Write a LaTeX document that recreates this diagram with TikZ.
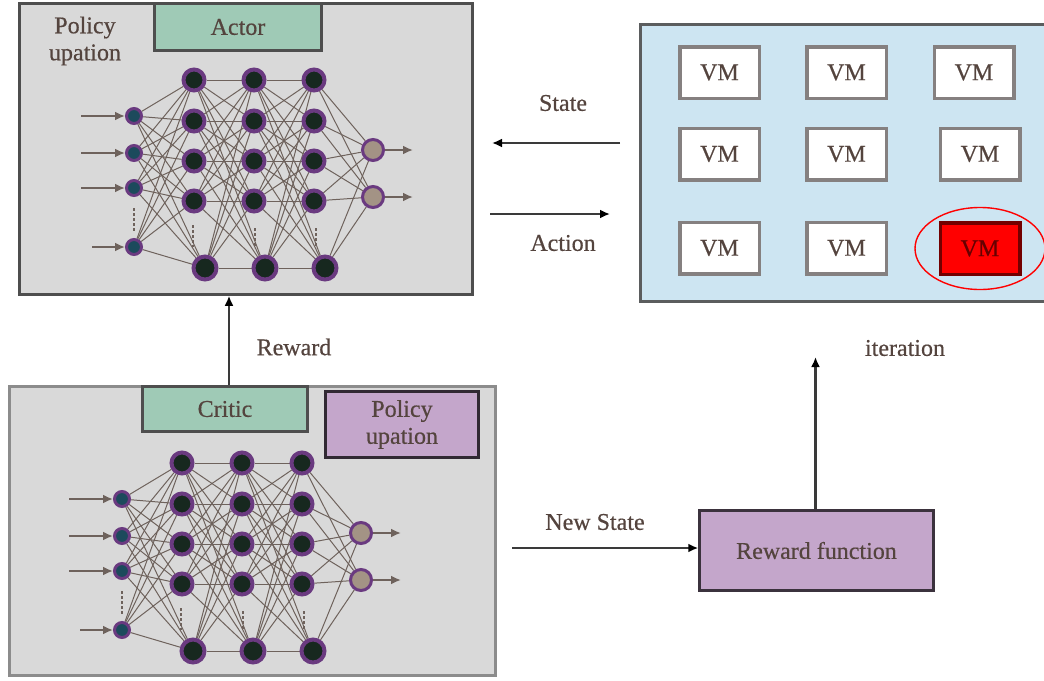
\documentclass[tikz,border=0pt]{standalone}
\usepackage{fontspec}
\setmainfont{Liberation Serif}
\newfontfamily\labelfont{Liberation Serif}[FakeBold=0.5]
\usetikzlibrary{arrows.meta}
\pgfdeclarelayer{bg}
\pgfdeclarelayer{wires}
\pgfsetlayers{bg,wires,main}

\definecolor{panelgray}{HTML}{D9D9D9}
\definecolor{framedark}{HTML}{4E4E4E}
\definecolor{framelight}{HTML}{8C8C8C}
\definecolor{mint}{HTML}{9FCAB6}
\definecolor{lilac}{HTML}{C4A6CB}
\definecolor{skyfill}{HTML}{CDE5F2}
\definecolor{inkbrown}{HTML}{54443E}
\definecolor{wire}{HTML}{6E625C}
\definecolor{ringpurple}{HTML}{6A3A80}
\definecolor{hidfill}{HTML}{17281F}
\definecolor{infill}{HTML}{1C4A5C}
\definecolor{outfill}{HTML}{A39385}
\definecolor{arrowgray}{HTML}{3A3A3A}
\definecolor{vmframe}{HTML}{858080}
\definecolor{alertred}{HTML}{FF0000}

\tikzset{
  txt/.style={font=\labelfont\fontsize{24}{27}\selectfont, text=inkbrown, align=center},
  panel/.style={rectangle, draw=framedark, line width=2.5pt, fill=panelgray, inner sep=0pt},
  tag/.style={rectangle, draw=framedark, line width=2.5pt, inner sep=0pt, txt},
  innode/.style={circle, draw=ringpurple, line width=3pt, fill=infill, minimum size=15pt, inner sep=0pt},
  hidnode/.style={circle, draw=ringpurple, line width=4pt, fill=hidfill, minimum size=21pt, inner sep=0pt},
  outnode/.style={circle, draw=ringpurple, line width=3pt, fill=outfill, minimum size=21pt, inner sep=0pt},
  vmbox/.style={rectangle, draw=vmframe, line width=3.5pt, fill=white, minimum width=79.5pt, minimum height=51.5pt, inner sep=0pt, txt},
  flow/.style={draw=arrowgray, line width=2.2pt, -{Latex[length=10pt,width=9pt,color=black]}},
  feed/.style={draw=wire, line width=2.3pt, -{Latex[length=10pt,width=9pt]}},
  mesh/.style={draw=wire, line width=1pt},
  ellipsis/.style={draw=wire, line width=2.6pt, dash pattern=on 2.5pt off 2.5pt},
}

% fully connected network: 4 inputs, three hidden layers of 5, two outputs
\newcommand{\mlpnet}[1]{%
  \foreach \y [count=\k] in {116,153,188,247} {
    \node[innode] (#1i\k) at (134,\y) {};
  }
  \foreach \y [count=\k] in {116,153,188} {
    \coordinate (#1s\k) at (81,\y);
  }
  \coordinate (#1s4) at (92,247);
  \foreach \x [count=\c] in {194,254,314} {
    \foreach \y [count=\k] in {80,121,161,201} {
      \node[hidnode] (#1h\c\k) at (\x,\y) {};
    }
    \node[hidnode, minimum size=23pt] (#1h\c5) at (\x+11,268) {};
  }
  \foreach \y [count=\k] in {150,197} {
    \node[outnode] (#1o\k) at (373,\y) {};
    \coordinate (#1t\k) at (413,\y);
  }
  \begin{pgfonlayer}{wires}
    \foreach \a in {1,...,4} {
      \foreach \b in {1,...,5} { \draw[mesh] (#1i\a) -- (#1h1\b); }
    }
    \foreach \c/\d in {1/2,2/3} {
      \foreach \a in {1,...,5} {
        \foreach \b in {1,...,5} { \draw[mesh] (#1h\c\a) -- (#1h\d\b); }
      }
    }
    \foreach \a in {1,...,5} {
      \foreach \b in {1,2} { \draw[mesh] (#1h3\a) -- (#1o\b); }
    }
    \draw[ellipsis] (134,208) -- (134,232);
    \draw[ellipsis] (193,225) -- (193,247);
    \draw[ellipsis] (255,228) -- (255,248);
    \draw[ellipsis] (316,228) -- (316,248);
  \end{pgfonlayer}
  \foreach \k in {1,...,4} { \draw[feed] (#1s\k) -- (#1i\k); }
  \foreach \k in {1,2} { \draw[feed] (#1o\k) -- (#1t\k); }
}

\begin{document}
\begin{tikzpicture}[x=1pt, y=-1pt]
  \useasboundingbox (0,0) rectangle (1044,680);

  % panels
  \begin{pgfonlayer}{bg}
    \node[panel, minimum width=453pt, minimum height=291pt] (actorpanel) at (246,149) {};
    \node[panel, draw=framelight, minimum width=486pt, minimum height=289pt] (criticpanel) at (252.5,531) {};
    \node[panel, fill=skyfill, draw=framedark!90!skyfill, minimum width=410pt, minimum height=277pt, anchor=north west] (envpanel) at (639,23) {};
  \end{pgfonlayer}

  % actor
  \node[tag, fill=mint, minimum width=167pt, minimum height=47pt] (actortag) at (238,27) {Actor};
  \node[txt] (actorpolicy) at (85,41) {Policy\\upation};
  \mlpnet{a}

  % critic
  \node[tag, fill=mint, minimum width=165pt, minimum height=45pt] (critictag) at (225,409) {Critic};
  \node[tag, fill=lilac, draw=black!75!lilac, line width=3pt, minimum width=153pt, minimum height=66pt] (critpolicy) at (402,424.5) {Policy\\upation};
  \begin{scope}[shift={(-12,383)}]
    \mlpnet{c}
  \end{scope}

  % virtual machines
  \node[vmbox] (vm11) at (719.5,72.5) {VM};
  \node[vmbox] (vm12) at (846.5,72.5) {VM};
  \node[vmbox] (vm13) at (974,72.5) {VM};
  \node[vmbox] (vm21) at (719.5,154) {VM};
  \node[vmbox] (vm22) at (846.5,154) {VM};
  \node[vmbox] (vm23) at (980,154) {VM};
  \node[vmbox] (vm31) at (719.5,248) {VM};
  \node[vmbox] (vm32) at (846.5,248) {VM};
  \node[vmbox, fill=alertred, draw=black!55!alertred, text=black!60!alertred] (vm33) at (980,248.5) {VM};
  \draw[alertred, line width=1.4pt] (vm33) ellipse [x radius=65pt, y radius=41pt];

  % reward function
  \node[tag, fill=lilac, draw=black!70!lilac, minimum width=234pt, minimum height=80pt] (rewardfn) at (816.5,550.5) {Reward function};

  % loop connectors
  \coordinate (stateR) at (620,143);
  \coordinate (stateL) at (492,143);
  \coordinate (actL) at (490,214);
  \coordinate (actR) at (610,214);
  \coordinate (rwx) at (229,340);
  \coordinate (newL) at (512,548);
  \coordinate (iterTop) at (815.5,357);
  \draw[flow] (stateR) -- (stateL);
  \draw[flow] (actL) -- (actR);
  \draw[flow] (critictag.north -| rwx) -- (actorpanel.south -| rwx);
  \draw[flow] (newL) -- (newL -| rewardfn.west);
  \draw[flow] (rewardfn.north -| iterTop) -- (iterTop);

  % labels
  \node[txt] (lblstate) at (563,103) {State};
  \node[txt] (lblaction) at (563,243) {Action};
  \node[txt] (lblreward) at (294,347) {Reward};
  \node[txt] (lblnew) at (595,522) {New State};
  \node[txt] (lbliter) at (905,348) {iteration};
\end{tikzpicture}
\end{document}
